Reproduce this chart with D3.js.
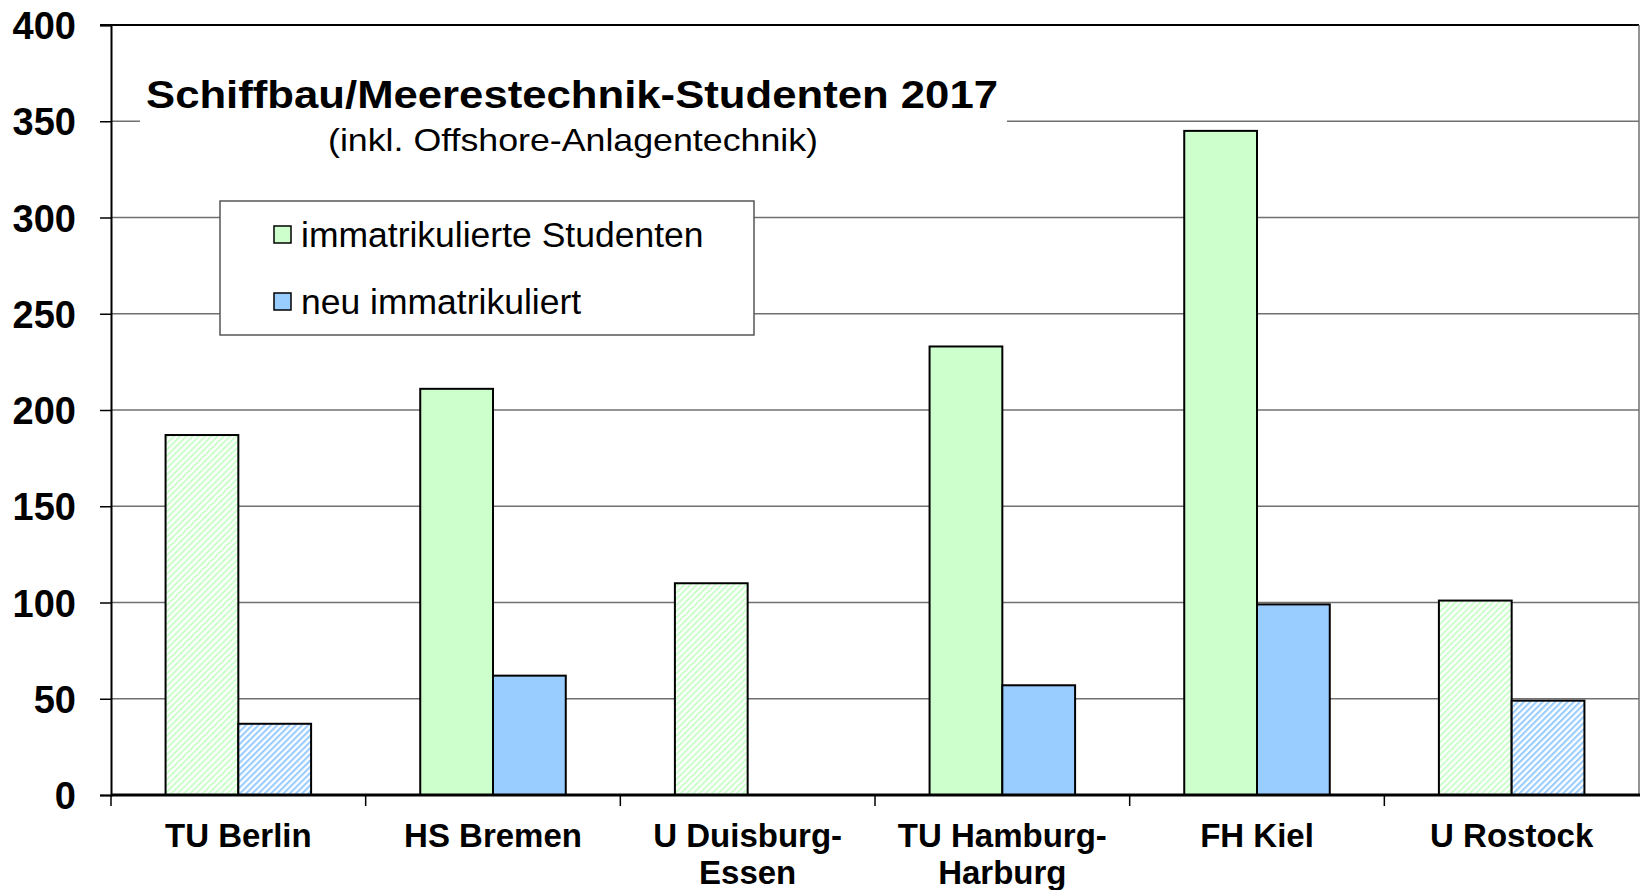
<!DOCTYPE html>
<html lang="de">
<head>
<meta charset="UTF-8">
<title>Schiffbau/Meerestechnik-Studenten 2017</title>
<script src="https://d3js.org/d3.v7.min.js"></script>
<style>
  body { margin: 0; background: #fff; }
  svg { display: block; font-family: Arial, "Liberation Sans", sans-serif; }
  .ylab text { font-size: 38px; font-weight: bold; fill: #000; }
  .xlab { font-size: 33px; font-weight: bold; fill: #000; }
  .legend text { font-size: 35.5px; fill: #000; }
</style>
</head>
<body>
<script>
// Hochschulen (Beschriftung zeilenweise)
const hochschulen = ["TU Berlin", "HS Bremen", "U Duisburg-Essen", "TU Hamburg-Harburg", "FH Kiel", "U Rostock"];
const labelZeilen = [["TU Berlin"], ["HS Bremen"], ["U Duisburg-", "Essen"], ["TU Hamburg-", "Harburg"], ["FH Kiel"], ["U Rostock"]];
const serien = ["immatrikulierte Studenten", "neu immatrikuliert"];
const immatrikuliert = [187, 211, 110, 233, 345, 101];
const neuImmatrikuliert = [37, 62, 0, 57, 99, 49];
// Werte geschätzt (schraffiert dargestellt)
const geschaetzt = [true, false, true, false, false, true];
const yTicks = [0, 50, 100, 150, 200, 250, 300, 350, 400];

const width = 1640, height = 890;
const margin = { top: 25, right: 1, bottom: 95, left: 111 };
const colors = ["#CCFFCC", "#99CCFF"];

const svg = d3.select("body").append("svg")
  .attr("width", width)
  .attr("height", height);

const defs = svg.append("defs");
colors.forEach((c, i) => {
  const p = defs.append("pattern")
    .attr("id", "hatch" + i)
    .attr("patternUnits", "userSpaceOnUse")
    .attr("width", 4.4)
    .attr("height", 4.4)
    .attr("patternTransform", "rotate(45)");
  p.append("rect").attr("width", 4.4).attr("height", 4.4).attr("fill", "#fff");
  p.append("line")
    .attr("x1", 1).attr("y1", 0).attr("x2", 1).attr("y2", 4.4)
    .attr("stroke", c).attr("stroke-width", 2.2);
});

const x = d3.scaleBand()
  .domain(hochschulen)
  .range([margin.left, width - margin.right]);

const xSub = d3.scaleBand()
  .domain(serien)
  .range([0, x.bandwidth()])
  .paddingOuter(0.75);

const y = d3.scaleLinear()
  .domain([0, 400])
  .range([height - margin.bottom, margin.top]);

// Gitterlinien
svg.append("g")
  .selectAll("line")
  .data(yTicks.filter(d => d > 0 && d < 400))
  .join("line")
  .attr("x1", margin.left)
  .attr("x2", width - margin.right)
  .attr("y1", d => y(d))
  .attr("y2", d => y(d))
  .attr("stroke", "#707070")
  .attr("stroke-width", 1.5);

// Rahmen oben und rechts
svg.append("line")
  .attr("x1", margin.left - 11).attr("x2", width - margin.right)
  .attr("y1", y(400)).attr("y2", y(400))
  .attr("stroke", "#000").attr("stroke-width", 2);
svg.append("line")
  .attr("x1", width - margin.right).attr("x2", width - margin.right)
  .attr("y1", y(400)).attr("y2", y(0))
  .attr("stroke", "#707070").attr("stroke-width", 1.5);

// Titelbereich (weiß hinterlegt)
svg.append("rect")
  .attr("x", 140).attr("y", 70)
  .attr("width", 867).attr("height", 95)
  .attr("fill", "#fff");
svg.append("text")
  .attr("x", 146).attr("y", 108)
  .attr("font-size", 39).attr("font-weight", "bold")
  .attr("textLength", 852).attr("lengthAdjust", "spacingAndGlyphs")
  .text("Schiffbau/Meerestechnik-Studenten 2017");
svg.append("text")
  .attr("x", 328).attr("y", 151)
  .attr("font-size", 32)
  .attr("textLength", 490).attr("lengthAdjust", "spacingAndGlyphs")
  .text("(inkl. Offshore-Anlagentechnik)");

// Balken
const data = hochschulen.map((h, i) => ({
  name: h,
  hatch: geschaetzt[i],
  werte: [immatrikuliert[i], neuImmatrikuliert[i]]
}));

const groups = svg.append("g")
  .selectAll("g")
  .data(data)
  .join("g")
  .attr("transform", d => `translate(${x(d.name)},0)`);

groups.selectAll("rect")
  .data(d => d.werte.map((v, j) => ({ serie: serien[j], j, v, hatch: d.hatch })).filter(e => e.v > 0))
  .join("rect")
  .attr("x", d => xSub(d.serie))
  .attr("width", xSub.bandwidth())
  .attr("y", d => y(d.v))
  .attr("height", d => y(0) - y(d.v))
  .attr("fill", d => d.hatch ? `url(#hatch${d.j})` : colors[d.j])
  .attr("stroke", "#000")
  .attr("stroke-width", 2);

// Y-Achse
const yAxis = svg.append("g")
  .attr("class", "ylab")
  .attr("transform", `translate(${margin.left},0)`)
  .call(d3.axisLeft(y).tickValues(yTicks).tickSize(11).tickPadding(24));
yAxis.select(".domain").attr("stroke", "#000").attr("stroke-width", 2);
yAxis.selectAll(".tick line").attr("stroke", "#000").attr("stroke-width", 1.5);
yAxis.selectAll(".tick text").attr("dy", "0.36em");

// X-Achse
svg.append("line")
  .attr("x1", margin.left).attr("x2", width)
  .attr("y1", y(0)).attr("y2", y(0))
  .attr("stroke", "#000").attr("stroke-width", 3);
svg.append("g")
  .selectAll("line")
  .data(hochschulen)
  .join("line")
  .attr("x1", d => x(d)).attr("x2", d => x(d))
  .attr("y1", y(0)).attr("y2", y(0) + 11)
  .attr("stroke", "#000").attr("stroke-width", 1.5);

svg.append("g")
  .selectAll("text")
  .data(hochschulen)
  .join("text")
  .attr("class", "xlab")
  .attr("text-anchor", "middle")
  .attr("x", d => x(d) + x.bandwidth() / 2)
  .attr("y", y(0) + 52)
  .each(function (d, i) {
    d3.select(this).selectAll("tspan")
      .data(labelZeilen[i])
      .join("tspan")
      .attr("x", x(d) + x.bandwidth() / 2)
      .attr("dy", (t, k) => k === 0 ? 0 : 37)
      .text(t => t);
  });

// Legende
const legend = svg.append("g").attr("class", "legend");
legend.append("rect")
  .attr("x", 220).attr("y", 201)
  .attr("width", 534).attr("height", 134)
  .attr("fill", "#fff")
  .attr("stroke", "#555")
  .attr("stroke-width", 1.5);
serien.forEach((s, i) => {
  legend.append("rect")
    .attr("x", 274).attr("y", 226 + i * 67)
    .attr("width", 17).attr("height", 17)
    .attr("fill", colors[i])
    .attr("stroke", "#000")
    .attr("stroke-width", 1.5);
  legend.append("text")
    .attr("x", 301).attr("y", 247 + i * 67)
    .text(s);
});
</script>
</body>
</html>
